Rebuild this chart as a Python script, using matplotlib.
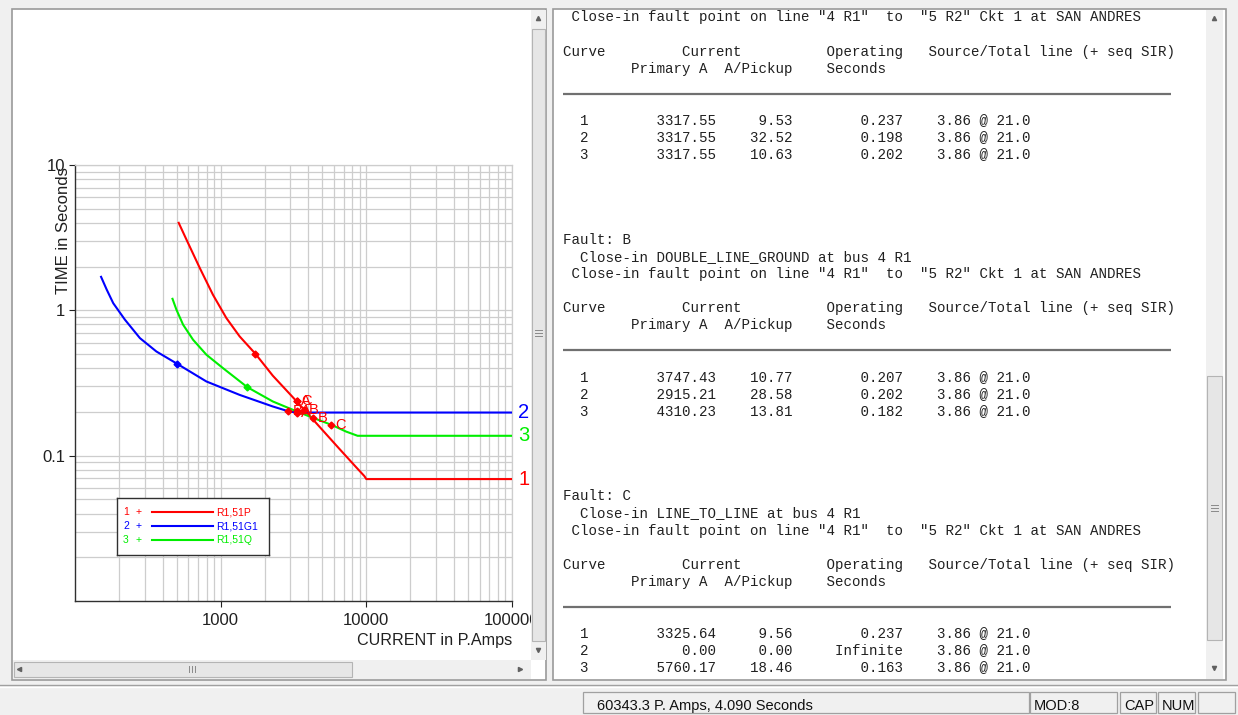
import matplotlib
matplotlib.use("Agg")
import matplotlib.pyplot as plt
from matplotlib.patches import Rectangle
from matplotlib.ticker import LogLocator, NullFormatter, FixedLocator

# ---------------- data ----------------
curve_ids = [1, 2, 3]
curve_colors = ['#ff0000', '#0000ff', '#00ee00']
legend_labels = ['R1,51P', 'R1,51G1', 'R1,51Q']

# curve 1 (R1,51P)
c1_amps = [515, 582, 718, 885, 1094, 1349, 1730, 2280, 3317, 3747, 5000, 6500, 8500, 9700, 10000, 100000]
c1_secs = [4.0, 3.07, 1.96, 1.28, 0.885, 0.662, 0.503, 0.355, 0.237, 0.207, 0.150, 0.112, 0.0834, 0.0723, 0.069, 0.069]
# curve 2 (R1,51G1)
c2_amps = [151, 165, 183, 220, 279, 362, 502, 798, 1349, 2280, 2915, 3317, 100000]
c2_secs = [1.70, 1.39, 1.12, 0.863, 0.644, 0.521, 0.429, 0.324, 0.262, 0.218, 0.202, 0.198, 0.198]
# curve 3 (R1,51Q)
c3_amps = [467, 497, 552, 646, 798, 1038, 1524, 2280, 3125, 3317, 4310, 5760, 7260, 8710, 100000]
c3_secs = [1.20, 1.01, 0.797, 0.628, 0.495, 0.400, 0.296, 0.236, 0.207, 0.202, 0.182, 0.163, 0.1465, 0.137, 0.137]

# small markers on each curve
curve_mark_amps = [1730, 502, 1524]
curve_mark_secs = [0.503, 0.429, 0.296]

# fault results
fault_ids = ['A', 'B', 'C']
fault_primary = [[3317.55, 3317.55, 3317.55], [3747.43, 2915.21, 4310.23], [3325.64, 0.00, 5760.17]]
fault_pickup = [[9.53, 32.52, 10.63], [10.77, 28.58, 13.81], [9.56, 0.00, 18.46]]
fault_secs = [[0.237, 0.198, 0.202], [0.207, 0.202, 0.182], [0.237, None, 0.163]]
fault_sir = '3.86 @ 21.0'
fault_desc = {'B': 'DOUBLE_LINE_GROUND', 'C': 'LINE_TO_LINE'}

x_ticks = [1000, 10000, 100000]
x_ticklabels = ['1000', '10000', '100000']
y_ticks = [0.1, 1, 10]
y_ticklabels = ['0.1', '1', '10']

status_text = '60343.3 P. Amps, 4.090 Seconds'
status_fields = ['MOD:8', 'CAP', 'NUM']

# ---------------- figure ----------------
W, H = 1238, 715
fig = plt.figure(figsize=(W / 100, H / 100), dpi=100)
fig.patch.set_facecolor('#f0f0f0')
SANS = ['Liberation Sans', 'DejaVu Sans']
MONO = ['Liberation Mono', 'DejaVu Sans Mono']

ui = fig.add_axes([0, 0, 1, 1])
ui.set_xlim(0, W); ui.set_ylim(H, 0); ui.axis('off')

# panels
ui.add_patch(Rectangle((12, 9), 534, 671, facecolor='white', edgecolor='#9a9a9a', lw=1.2))
ui.add_patch(Rectangle((553, 9), 673, 671, facecolor='white', edgecolor='#9a9a9a', lw=1.2))

# axis labels
ui.text(64, 231, 'TIME in Seconds', rotation=90, ha='center', va='center',
        fontsize=12, family=SANS, color='#202020')
ui.text(512, 641, 'CURRENT in P.Amps', ha='right', va='center',
        fontsize=11.6, family=SANS, color='#202020')

# ---------------- text report ----------------
CW = 8.5
X0 = 563
LH = 17.1
close_line = ' Close-in fault point on line "4 R1"  to  "5 R2" Ckt 1 at SAN ANDRES'
hdr1 = 'Curve' + ' ' * 9 + 'Current' + ' ' * 10 + 'Operating' + ' ' * 3 + 'Source/Total line (+ seq SIR)'
hdr2 = ' ' * 8 + 'Primary A' + ' ' * 2 + 'A/Pickup' + ' ' * 4 + 'Seconds'

lines = {}
rules = []
def block(start, fid, with_intro):
    i = start
    if with_intro:
        lines[i] = 'Fault: ' + fid; i += 1
        lines[i] = '  Close-in ' + fault_desc[fid] + ' at bus 4 R1'; i += 1
    lines[i] = close_line; i += 2
    lines[i] = hdr1; i += 1
    lines[i] = hdr2; i += 1
    rules.append(i); i += 2
    k = fault_ids.index(fid)
    for j, c in enumerate(curve_ids):
        s = fault_secs[k][j]
        s_str = 'Infinite' if s is None else f'{s:.3f}'
        lines[i] = f'  {c}{fault_primary[k][j]:>15.2f}{fault_pickup[k][j]:>9.2f}{s_str:>13}    {fault_sir}'
        i += 1

block(0, 'A', False)
block(13, 'B', True)
block(28, 'C', True)

for i, s in lines.items():
    ui.text(X0, 17 + LH * i + 4.5, s, family=MONO, fontsize=10.2, ha='left',
            va='baseline', color='#202020')
for i in rules:
    y = 17 + LH * i + 8.5
    ui.plot([X0, X0 + 71.5 * CW], [y, y], color='#707070', lw=1.6, solid_capstyle='butt')

# ---------------- plot ----------------
ax = fig.add_axes([75 / W, 1 - 601 / H, 437 / W, 436 / H])
ax.set_facecolor('white')
ax.set_xscale('log'); ax.set_yscale('log')
ax.set_xlim(100, 100000); ax.set_ylim(0.01, 10)
ax.xaxis.set_major_locator(FixedLocator(x_ticks))
ax.set_xticklabels(x_ticklabels)
ax.yaxis.set_major_locator(FixedLocator(y_ticks))
ax.set_yticklabels(y_ticklabels)
for a in (ax.xaxis, ax.yaxis):
    a.set_minor_locator(LogLocator(base=10, subs=[2, 3, 4, 5, 6, 7, 8, 9], numticks=20))
    a.set_minor_formatter(NullFormatter())
ax.grid(True, which='both', color='#cdcdcd', lw=0.9)
ax.set_axisbelow(True)
ax.tick_params(which='minor', length=0)
ax.tick_params(axis='x', which='major', length=4, width=0.8, pad=4.3, labelsize=12, colors='#202020')
ax.tick_params(axis='y', which='major', length=4, width=0.8, pad=3.0, labelsize=12, colors='#202020')
for lbl in ax.get_xticklabels() + ax.get_yticklabels():
    lbl.set_family(SANS)
for sp in ('left', 'bottom'):
    ax.spines[sp].set_color('#303030'); ax.spines[sp].set_linewidth(1.0)
for sp in ('top', 'right'):
    ax.spines[sp].set_color('#cdcdcd'); ax.spines[sp].set_linewidth(0.9)

curves = [(c1_amps, c1_secs), (c2_amps, c2_secs), (c3_amps, c3_secs)]
for (xs, ys), col in zip(curves, curve_colors):
    ax.plot(xs, ys, color=col, lw=1.5, zorder=3)
for xm, ym, col in zip(curve_mark_amps, curve_mark_secs, curve_colors):
    ax.plot([xm], [ym], 'D', color=col, ms=3.5, zorder=4)

# fault points
for k, fid in enumerate(fault_ids):
    for j in range(len(curve_ids)):
        s = fault_secs[k][j]
        if s is None:
            continue
        x = fault_primary[k][j]
        ax.plot([x], [s], 'D', color='#ff0000', ms=3.5, zorder=5)
        ax.annotate(fid, (x, s), xytext=(3, 0), textcoords='offset points',
                    color='#ff0000', fontsize=10.5, va='center', ha='left',
                    family=SANS, zorder=6)

# curve-number labels at right end
for (xs, ys), col, cid in zip(curves, curve_colors, curve_ids):
    ax.annotate(str(cid), (xs[-1], ys[-1]), xytext=(4.5, 0), textcoords='offset points',
                color=col, fontsize=14.5, va='center', ha='left', family=SANS,
                annotation_clip=False)

# legend box
lg = fig.add_axes([117 / W, 1 - 555 / H, 152 / W, 57 / H])
lg.set_xlim(0, 152); lg.set_ylim(57, 0)
lg.set_xticks([]); lg.set_yticks([])
lg.set_facecolor('white')
for sp in lg.spines.values():
    sp.set_color('#303030'); sp.set_linewidth(1.0)
for r, (cid, col, lab) in enumerate(zip(curve_ids, curve_colors, legend_labels)):
    y = 14.3 + 13.8 * r
    lg.text(9, y, str(cid), color=col, fontsize=7.5, ha='center', va='center', family=SANS)
    lg.text(22, y, '+', color=col, fontsize=7.5, ha='center', va='center', family=SANS)
    lg.plot([35, 96], [y, y], color=col, lw=1.5)
    lg.text(99, y, lab, color=col, fontsize=7.5, ha='left', va='center', family=SANS)

# ---------------- overlay UI (scrollbars, status bar) ----------------
top = fig.add_axes([0, 0, 1, 1])
top.set_xlim(0, W); top.set_ylim(H, 0); top.axis('off')

# left vertical scrollbar
top.add_patch(Rectangle((531, 10), 15, 650, facecolor='#f0f0f0', edgecolor='none'))
top.add_patch(Rectangle((532, 29), 13, 612, facecolor='#e6e6e6', edgecolor='#b4b4b4', lw=0.8))
top.plot([538], [18], marker='^', ms=3, color='#606060')
top.plot([538], [650], marker='v', ms=3, color='#606060')
for dy in (-3, 0, 3):
    top.plot([535, 542], [333 + dy, 333 + dy], color='#8a8a8a', lw=0.7)
# left horizontal scrollbar
top.add_patch(Rectangle((13, 660), 518, 19, facecolor='#f0f0f0', edgecolor='none'))
top.add_patch(Rectangle((14, 661.5), 338, 15, facecolor='#e6e6e6', edgecolor='#b4b4b4', lw=0.8))
for dx in (-3, 0, 3):
    top.plot([192 + dx, 192 + dx], [666, 672], color='#8a8a8a', lw=0.7)
top.plot([520], [669], marker='>', ms=3, color='#606060')
top.plot([19], [669], marker='<', ms=3, color='#606060')

# right vertical scrollbar
top.add_patch(Rectangle((1206, 10), 17, 669, facecolor='#f0f0f0', edgecolor='none'))
top.add_patch(Rectangle((1207, 376), 15, 264, facecolor='#e6e6e6', edgecolor='#b4b4b4', lw=0.8))
top.plot([1214], [18], marker='^', ms=3, color='#606060')
top.plot([1214], [668], marker='v', ms=3, color='#606060')
for dy in (-3, 0, 3):
    top.plot([1211, 1218], [508 + dy, 508 + dy], color='#8a8a8a', lw=0.7)

# status bar
top.plot([0, W], [685, 685], color='#a0a0a0', lw=1.0)
top.plot([0, W], [686.5, 686.5], color='white', lw=1.0)
boxes = [(583, 1030), (1030, 1118), (1120, 1157), (1158, 1196), (1198, 1236)]
for x0, x1 in boxes:
    top.add_patch(Rectangle((x0, 692), x1 - x0 - 1, 21, facecolor='none', edgecolor='#a0a0a0', lw=0.9))
top.text(597, 706, status_text, fontsize=10.5, ha='left', va='center', family=SANS, color='#101010')
for (x0, x1), s in zip(boxes[1:], status_fields):
    top.text(x0 + 4, 706, s, fontsize=10.5, ha='left', va='center', family=SANS, color='#101010')

fig.savefig('out.png', dpi=100)
